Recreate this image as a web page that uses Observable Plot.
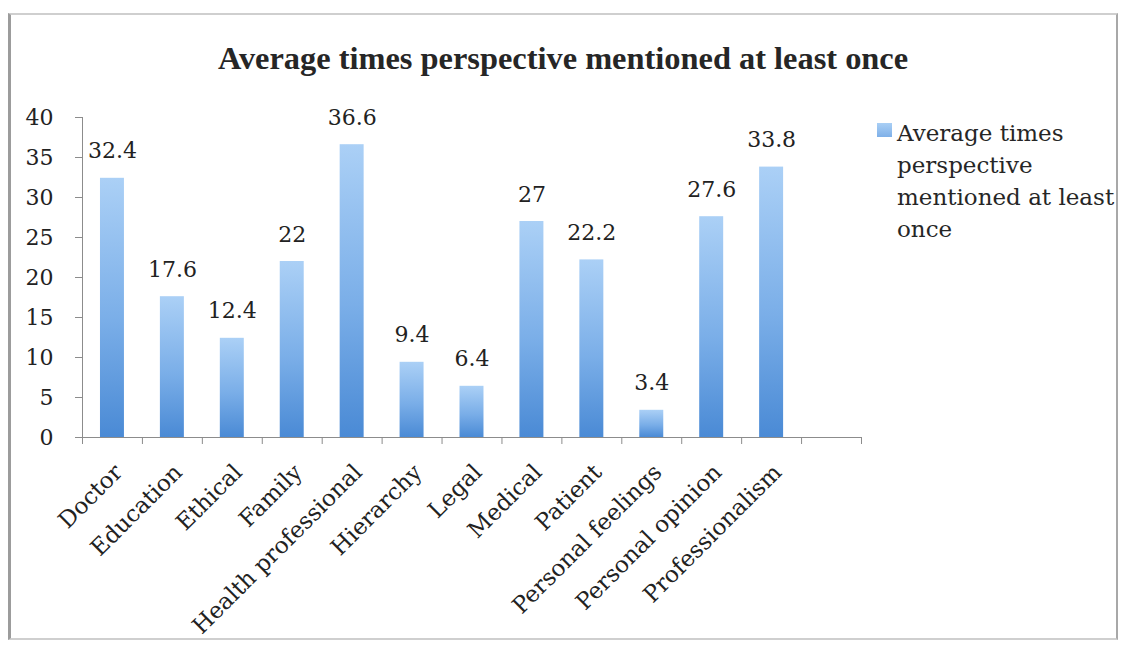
<!DOCTYPE html>
<html>
<head>
<meta charset="utf-8">
<script src="https://cdn.jsdelivr.net/npm/d3@7"></script>
<script src="https://cdn.jsdelivr.net/npm/@observablehq/plot@0.6"></script>
<style>
  html, body { margin: 0; padding: 0; background: #fff; }
  #page { position: relative; width: 1123px; height: 648px; overflow: hidden; }
  #frame {
    position: absolute; left: 8px; top: 13px; width: 1110px; height: 627px;
    box-sizing: border-box;
    border: 2px solid #cfcfcf; border-left: 3px solid #9c9c9c; border-right: 2px solid #a8a8a8;
  }
  #title {
    position: absolute; left: 0; top: 42px; width: 1126px; text-align: center;
    font: bold 32.4px/32px "Liberation Serif", "Times New Roman", serif; color: #262626;
  }
  #chart { position: absolute; left: 0; top: 0; }
  #legend {
    position: absolute; left: 877px; top: 117px; width: 240px;
    font-family: "DejaVu Serif", serif;
    font-size: 23px; line-height: 32px; color: #262626;
  }
  #legend .swatch {
    position: absolute; left: 0; top: 6px; width: 15px; height: 14px;
    background: linear-gradient(#a9cff5, #7fb0e8);
  }
  #legend .label { margin-left: 20px; }
</style>
</head>
<body>
<div id="page">
  <div id="frame"></div>
  <div id="chart"></div>
  <div id="title">Average times perspective mentioned at least once</div>
  <div id="legend"><div class="swatch"></div><div class="label" id="legend-label"></div></div>
</div>
<script>
// Perspectives and the average number of times each was mentioned
const categories = [
  "Doctor", "Education", "Ethical", "Family", "Health professional", "Hierarchy",
  "Legal", "Medical", "Patient", "Personal feelings", "Personal opinion", "Professionalism"
];
const values = [32.4, 17.6, 12.4, 22, 36.6, 9.4, 6.4, 27, 22.2, 3.4, 27.6, 33.8];
const yTicks = [0, 5, 10, 15, 20, 25, 30, 35, 40];
const seriesName = "Average times perspective mentioned at least once";

const data = categories.map((c, i) => ({category: c, value: values[i]}));
// one trailing empty slot on the category axis
const xDomain = [...categories, ""];

const W = 1123, H = 648;
const mL = 82, mR = 262, mT = 117, mB = 211;
const step = (W - mL - mR) / xDomain.length;
const axisGray = "#8c8c8c";
const ink = "#222";
const font = '"DejaVu Serif", serif';

const chart = Plot.plot({
  width: W,
  height: H,
  marginLeft: mL,
  marginRight: mR,
  marginTop: mT,
  marginBottom: mB,
  style: {fontFamily: font, fontSize: "22px", color: ink, background: "transparent"},
  x: {domain: xDomain, paddingInner: 0.6, paddingOuter: 0.3, round: false},
  y: {domain: [0, 40]},
  marks: [
    Plot.barY(data, {x: "category", y: "value", fill: "url(#barShade)"}),
    Plot.frame({anchor: "left", stroke: axisGray}),
    Plot.frame({anchor: "bottom", stroke: axisGray}),
    Plot.axisY({ticks: yTicks, tickSize: 7, tickPadding: 22, stroke: axisGray, fill: ink, fontSize: 22, label: null}),
    // category boundary ticks below the axis
    Plot.axisX(xDomain, {tickSize: 7, dx: -step / 2, stroke: axisGray, tickFormat: () => "", label: null}),
    Plot.axisX(xDomain.slice(-1), {tickSize: 7, dx: step / 2, stroke: axisGray, tickFormat: () => "", label: null}),
    Plot.axisX({tickSize: 0, tickPadding: 0, tickRotate: -45, dx: 6, dy: 31, fill: ink, fontSize: 23, label: null, tickFormat: d => d}),
    Plot.text(data, {x: "category", y: "value", text: d => String(d.value), lineAnchor: "bottom", dy: -20, fill: ink, fontSize: 22})
  ]
});

// vertical shading of each bar: light at the top, deeper blue at the base
const defs = d3.select(chart).insert("defs", ":first-child");
const grad = defs.append("linearGradient")
  .attr("id", "barShade").attr("x1", 0).attr("y1", 0).attr("x2", 0).attr("y2", 1);
grad.append("stop").attr("offset", "0%").attr("stop-color", "#abd0f6");
grad.append("stop").attr("offset", "55%").attr("stop-color", "#7aaee8");
grad.append("stop").attr("offset", "100%").attr("stop-color", "#4a8ad5");

document.getElementById("chart").appendChild(chart);
document.getElementById("legend-label").textContent = seriesName;
</script>
</body>
</html>
